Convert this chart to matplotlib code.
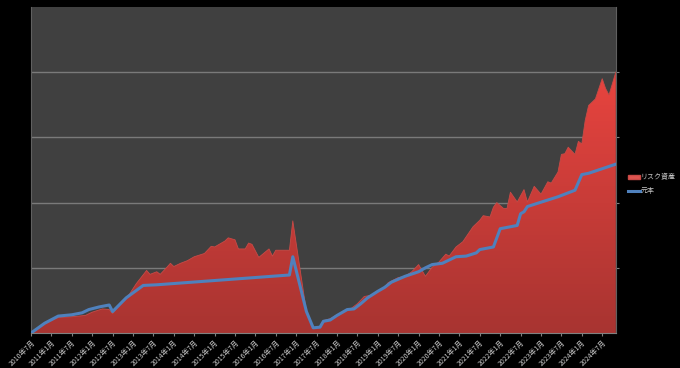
import numpy as np
import pandas as pd
import matplotlib
matplotlib.use('Agg')
import matplotlib.pyplot as plt
from matplotlib.colors import LinearSegmentedColormap
from matplotlib.patches import Patch
from matplotlib.lines import Line2D

plt.rcParams['font.family'] = ['Noto Sans CJK JP', 'DejaVu Sans']

# risk assets (red area) at its vertices
risk_dates = ['2010-07', '2010-11', '2011-03', '2011-07', '2011-11', '2012-01', '2012-04',
              '2012-06', '2012-07', '2012-12', '2013-02', '2013-05', '2013-06', '2013-08',
              '2013-09', '2013-11', '2013-12', '2014-01', '2014-03', '2014-05', '2014-07',
              '2014-10', '2014-12', '2015-01', '2015-03', '2015-04', '2015-05', '2015-07',
              '2015-08', '2015-10', '2015-11', '2015-12', '2016-02', '2016-05', '2016-06',
              '2016-07', '2016-11', '2016-12', '2017-04', '2017-06', '2017-08', '2017-09',
              '2017-11', '2018-01', '2018-02', '2018-04', '2018-05', '2018-07', '2018-09',
              '2018-11', '2019-01', '2019-03', '2019-04', '2019-07', '2019-09', '2019-11',
              '2020-01', '2020-03', '2020-05', '2020-07', '2020-09', '2020-10', '2020-12',
              '2021-02', '2021-05', '2021-07', '2021-08', '2021-10', '2021-11', '2021-12',
              '2022-02', '2022-03', '2022-04', '2022-06', '2022-08', '2022-09', '2022-11',
              '2023-01', '2023-03', '2023-04', '2023-06', '2023-07', '2023-08', '2023-09',
              '2023-11', '2023-12', '2024-01', '2024-02', '2024-03', '2024-05', '2024-07',
              '2024-08', '2024-09', '2024-11']
risk_values = [0, 14, 24, 25, 27, 32, 37,
               36, 30, 60, 76, 96, 90, 94,
               90, 101, 107, 102, 107, 111, 117,
               122, 133, 132, 138, 141, 146, 143,
               129, 129, 138, 136, 116, 129, 118,
               127, 127, 172, 33, 8, 9, 19,
               22, 28, 30, 36, 37, 45, 56,
               58, 65, 70, 77, 85, 87, 94,
               105, 87, 101, 109, 121, 118, 132,
               140, 163, 173, 180, 178, 193, 200,
               191, 191, 216, 201, 220, 201, 225,
               213, 232, 230, 247, 274, 275, 285,
               274, 294, 290, 326, 349, 359, 390,
               375, 365, 400]

# principal (blue line)
principal_dates = ['2010-07', '2010-11', '2011-03', '2011-07', '2011-10', '2011-12', '2012-03',
                   '2012-06', '2012-07', '2012-11', '2013-04', '2013-08', '2016-11', '2016-12',
                   '2017-04', '2017-06', '2017-08', '2017-09', '2017-11', '2018-01', '2018-02',
                   '2018-04', '2018-06', '2018-08', '2018-10', '2019-01', '2019-03', '2019-05',
                   '2019-09', '2020-01', '2020-03', '2020-05', '2020-08', '2020-12', '2021-03',
                   '2021-06', '2021-07', '2021-11', '2022-01', '2022-06', '2022-07', '2022-08',
                   '2022-09', '2023-06', '2023-11', '2024-01', '2024-03', '2024-11']
principal_values = [0, 15, 26, 28, 31, 36, 40,
                    43, 33, 54, 73, 74, 89, 117,
                    33, 8, 9, 18, 20, 27, 30,
                    36, 37, 45, 54, 64, 70, 78,
                    87, 94, 100, 105, 107, 117, 118,
                    123, 128, 132, 160, 165, 183, 186,
                    194, 209, 219, 243, 245, 259]

start = pd.Period('2010-07', freq='M')


def to_month(dates):
    return np.array([(pd.Period(d, freq='M') - start).n for d in dates])


xr = to_month(risk_dates)
yr = np.array(risk_values, dtype=float)
xp = to_month(principal_dates)
yp = np.array(principal_values, dtype=float)

tick_pos = np.arange(0, 169, 6)
tick_labels = [f"{(start + int(m)).year}年{(start + int(m)).month}月" for m in tick_pos]

fig = plt.figure(figsize=(6.8, 3.68), dpi=100, facecolor='black')
ax = fig.add_axes([0.0456, 0.095, 0.86, 0.886])
ax.set_facecolor('#404040')

xmax = 172
ymax = 500
ax.set_xlim(0, xmax)
ax.set_ylim(0, ymax)

# red area with a vertical gradient
fill = ax.fill_between(xr, yr, 0, color='none', lw=0, zorder=2)
cmap = LinearSegmentedColormap.from_list('red_grad', ['#a83431', '#e8443f'])
grad = np.linspace(0, 1, 256).reshape(-1, 1)
img = ax.imshow(grad, cmap=cmap, origin='lower', aspect='auto',
                extent=[0, xmax, 0, 400], zorder=2)
path = fill.get_paths()[0]
img.set_clip_path(path, transform=ax.transData)
ax.plot(xr, yr, color='#c84a46', lw=0.6, zorder=2)

ax.plot(xp, yp, color='#4f81bd', lw=2.2, zorder=3, solid_joinstyle='round')

ax.set_yticks(np.arange(100, 500, 100))
ax.yaxis.grid(True, color='#7a7a7a', lw=1)
ax.set_axisbelow(True)
ax.yaxis.tick_right()
ax.tick_params(axis='y', labelright=False, colors='#808080', length=2)

ax.set_xticks(tick_pos)
ax.set_xticklabels(tick_labels, rotation=45, ha='right', rotation_mode='anchor',
                   fontsize=5, color='#c8c8c8')
ax.tick_params(axis='x', colors='#808080', length=2.5, labelcolor='#c8c8c8', pad=1.5)

for side in ['top']:
    ax.spines[side].set_visible(False)
ax.spines['left'].set_color('#606060')
ax.spines['right'].set_color('#606060')
ax.spines['bottom'].set_color('#808080')

handles = [Patch(facecolor='#e05550', edgecolor='#c84a46', label='リスク資産'),
           Line2D([0], [0], color='#4f81bd', lw=2.2, label='元本')]
leg = fig.legend(handles=handles, loc='center left', bbox_to_anchor=(0.915, 0.5),
                 frameon=False, fontsize=5, labelcolor='#c8c8c8',
                 handlelength=1.6, handleheight=0.5, handletextpad=0.2, labelspacing=0.8)

fig.savefig('out.png', dpi=100, facecolor='black')
